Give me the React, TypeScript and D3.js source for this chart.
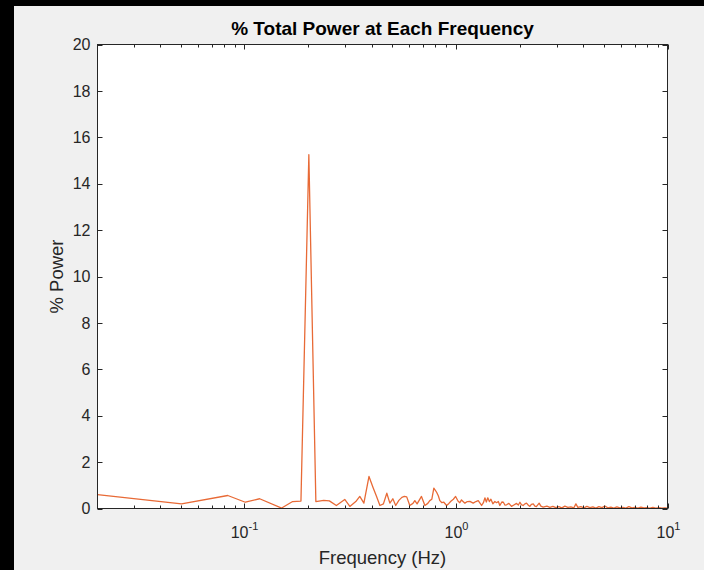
import React from "react";
import * as d3 from "d3";

// Frequency (Hz) and % power
const freqHz = [
  0.0202, 0.0504, 0.0834, 0.101, 0.118, 0.150, 0.169, 0.185, 0.2016, 0.2176,
  0.237, 0.252, 0.272, 0.298, 0.315, 0.336, 0.351, 0.367, 0.388, 0.405,
  0.420, 0.437, 0.454, 0.471, 0.487, 0.503, 0.519, 0.537, 0.555, 0.570,
  0.585, 0.605, 0.626, 0.639, 0.655, 0.687, 0.713, 0.736, 0.752, 0.769,
  0.786, 0.810, 0.825, 0.839, 0.858, 0.876, 0.903, 0.926, 0.946, 0.972,
  0.996, 1.024, 1.043, 1.062, 1.102, 1.132, 1.163, 1.206, 1.242, 1.274,
  1.322, 1.348, 1.370, 1.392, 1.414, 1.438, 1.463, 1.494, 1.527, 1.556,
  1.586, 1.612, 1.648, 1.675, 1.703, 1.735, 1.779, 1.83, 1.878, 1.933,
  1.972, 2.006, 2.038, 2.077, 2.117, 2.155, 2.199, 2.236, 2.272, 2.319,
  2.361, 2.399, 2.473, 2.520, 2.584, 2.690, 2.779, 2.872, 2.967, 3.065,
  3.167, 3.272, 3.381, 3.493, 3.609, 3.689, 3.770, 3.895, 4.024, 4.158,
  4.296, 4.438, 4.585, 4.738, 4.895, 5.058, 5.225, 5.399, 5.577, 5.763,
  5.954, 6.152, 6.356, 6.567, 6.785, 7.01, 7.244, 7.484, 7.733, 7.990,
  8.255, 8.530, 8.812, 9.105, 9.408, 9.721, 10.0,
];
const powerPct = [
  0.60, 0.20, 0.56, 0.27, 0.42, 0.02, 0.30, 0.32, 15.25, 0.30,
  0.35, 0.33, 0.13, 0.39, 0.09, 0.30, 0.52, 0.23, 1.38, 0.92,
  0.55, 0.13, 0.20, 0.66, 0.23, 0.42, 0.13, 0.35, 0.48, 0.52,
  0.50, 0.13, 0.22, 0.34, 0.20, 0.52, 0.13, 0.22, 0.34, 0.40,
  0.88, 0.70, 0.55, 0.34, 0.25, 0.27, 0.13, 0.22, 0.31, 0.40,
  0.52, 0.31, 0.25, 0.37, 0.23, 0.30, 0.31, 0.23, 0.30, 0.34,
  0.13, 0.25, 0.46, 0.28, 0.46, 0.30, 0.40, 0.20, 0.30, 0.25,
  0.30, 0.13, 0.28, 0.27, 0.15, 0.16, 0.22, 0.09, 0.15, 0.22,
  0.15, 0.27, 0.17, 0.13, 0.20, 0.23, 0.14, 0.09, 0.18, 0.20,
  0.10, 0.08, 0.23, 0.10, 0.06, 0.10, 0.05, 0.09, 0.04, 0.08,
  0.03, 0.10, 0.05, 0.07, 0.03, 0.20, 0.05, 0.08, 0.03, 0.09,
  0.04, 0.07, 0.02, 0.08, 0.04, 0.10, 0.03, 0.06, 0.02, 0.07,
  0.03, 0.05, 0.02, 0.08, 0.03, 0.05, 0.02, 0.06, 0.03, 0.04,
  0.02, 0.05, 0.02, 0.04, 0.02, 0.03, 0.02,
];
const yTicks = [0, 2, 4, 6, 8, 10, 12, 14, 16, 18, 20];
const xTickExponents = [-1, 0, 1];
const xDomain = [0.0202, 10];
const yDomain = [0, 20];
const titleText = "% Total Power at Each Frequency";
const xLabelText = "Frequency (Hz)";
const yLabelText = "% Power";

const W = 704, H = 570;
const L = 97.5, R = 667.5, T = 44.5, B = 508.5;
const axisColor = "#262626";
const lineColor = "#E86A36";
const font = "'Liberation Sans', Arial, Helvetica, sans-serif";

export default function App() {
  const x = d3.scaleLog().domain(xDomain).range([L, R]);
  const y = d3.scaleLinear().domain(yDomain).range([B, T]);
  const line = d3
    .line<number>()
    .x((_, i) => x(freqHz[i]))
    .y((d) => y(d));
  const pathD = line(powerPct) || "";

  const minor: number[] = [];
  for (let e = -2; e <= 0; e++) {
    for (let m = 2; m <= 9; m++) {
      const v = m * Math.pow(10, e);
      if (v > xDomain[0] && v < xDomain[1]) minor.push(v);
    }
  }

  return (
    <svg
      width={W}
      height={H}
      style={{ position: "absolute", left: 0, top: 0, display: "block" }}
      fontFamily={font}
    >
      <rect x={0} y={0} width={W} height={H} fill="#000" />
      <rect x={14} y={6} width={W - 14} height={H - 6} fill="#f0f0f0" />
      <rect x={L} y={T} width={R - L} height={B - T} fill="#fff" />
      <defs>
        <clipPath id="plotclip">
          <rect x={L} y={T - 1} width={R - L} height={B - T + 2} />
        </clipPath>
      </defs>
      <path
        d={pathD}
        fill="none"
        stroke={lineColor}
        strokeWidth={1.3}
        strokeLinejoin="round"
        clipPath="url(#plotclip)"
      />
      {/* y ticks */}
      {yTicks.map((t) => (
        <g key={"y" + t}>
          <line x1={L} x2={L + 5} y1={Math.round(y(t)) + 0.5} y2={Math.round(y(t)) + 0.5} stroke={axisColor} />
          <line x1={R} x2={R - 5} y1={Math.round(y(t)) + 0.5} y2={Math.round(y(t)) + 0.5} stroke={axisColor} />
          <text x={L - 7} y={y(t)} dy="0.36em" textAnchor="end" fontSize={16} fill={axisColor}>
            {t}
          </text>
        </g>
      ))}
      {/* x minor ticks */}
      {minor.map((v, i) => (
        <g key={"m" + i}>
          <line x1={Math.round(x(v)) + 0.5} x2={Math.round(x(v)) + 0.5} y1={B} y2={B - 3} stroke={axisColor} />
          <line x1={Math.round(x(v)) + 0.5} x2={Math.round(x(v)) + 0.5} y1={T} y2={T + 3} stroke={axisColor} />
        </g>
      ))}
      {/* x major ticks */}
      {xTickExponents.map((e) => {
        const px = Math.round(x(Math.pow(10, e))) + 0.5;
        return (
          <g key={"x" + e}>
            <line x1={px} x2={px} y1={B} y2={B - 5} stroke={axisColor} />
            <line x1={px} x2={px} y1={T} y2={T + 5} stroke={axisColor} />
            <text x={px} y={538} textAnchor="middle" fontSize={16} fill={axisColor}>
              <tspan>10</tspan>
              <tspan dy={-8} fontSize={11}>{String(e)}</tspan>
            </text>
          </g>
        );
      })}
      {/* box */}
      <rect x={L} y={T} width={R - L} height={B - T} fill="none" stroke={axisColor} strokeWidth={1} />
      <text x={(L + R) / 2} y={35} textAnchor="middle" fontSize={19} fontWeight="bold" fill="#000">
        {titleText}
      </text>
      <text x={(L + R) / 2} y={564} textAnchor="middle" fontSize={18.5} fill={axisColor}>
        {xLabelText}
      </text>
      <text
        transform={`translate(63,${(T + B) / 2}) rotate(-90)`}
        textAnchor="middle"
        fontSize={18.5}
        fill={axisColor}
      >
        {yLabelText}
      </text>
    </svg>
  );
}
